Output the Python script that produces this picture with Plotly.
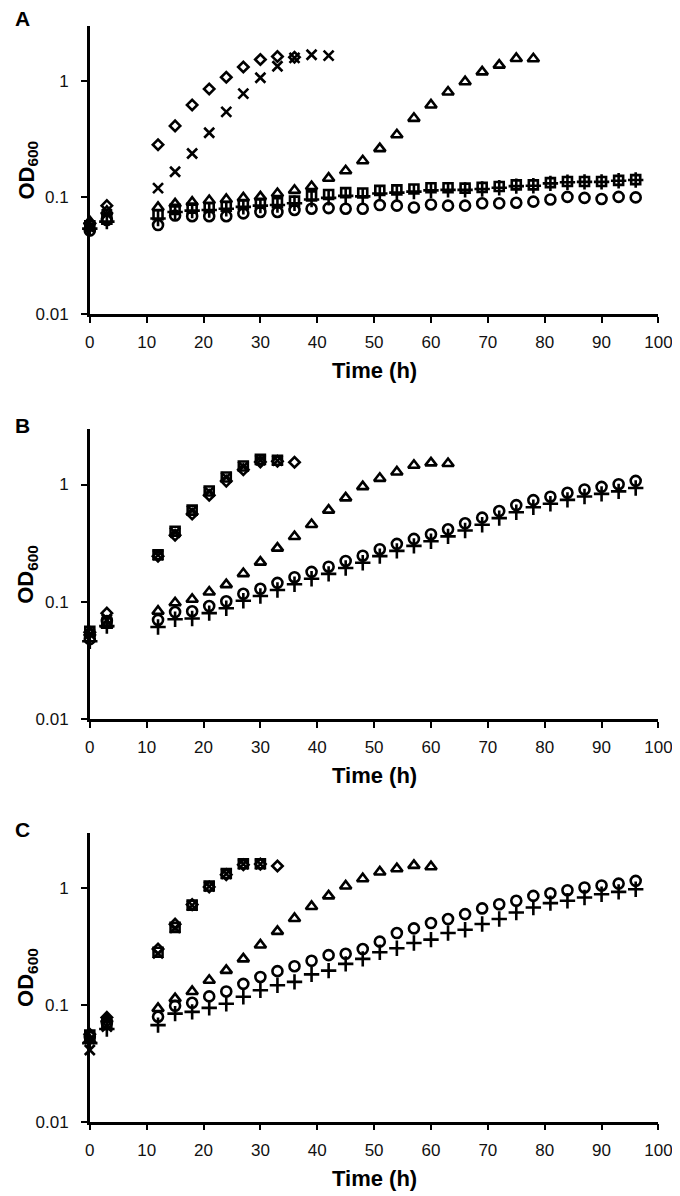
import plotly.graph_objects as go

# ---------------- data ----------------
time_all = [0, 3, 12, 15, 18, 21, 24, 27, 30, 33, 36, 39, 42, 45, 48, 51, 54, 57, 60,
            63, 66, 69, 72, 75, 78, 81, 84, 87, 90, 93, 96]

# Panel A
a_diamond = [0.060, 0.085, 0.283, 0.41, 0.62, 0.85, 1.07, 1.31, 1.52, 1.61, 1.59]
a_cross = [0.055, 0.072, 0.120, 0.166, 0.238, 0.358, 0.54, 0.776, 1.06, 1.33, 1.57, 1.67, 1.64]
a_triangle = [0.062, 0.076, 0.082, 0.088, 0.091, 0.094, 0.096, 0.099, 0.101, 0.108, 0.115,
              0.124, 0.146, 0.169, 0.206, 0.262, 0.344, 0.476, 0.62, 0.80, 0.98, 1.19,
              1.36, 1.55, 1.54]
a_square = [0.057, 0.065, 0.071, 0.079, 0.081, 0.082, 0.084, 0.087, 0.089, 0.090, 0.093,
            0.103, 0.106, 0.110, 0.109, 0.115, 0.116, 0.118, 0.121, 0.121, 0.120, 0.122,
            0.124, 0.128, 0.128, 0.134, 0.137, 0.137, 0.137, 0.140, 0.142]
a_circle = [0.052, 0.064, 0.058, 0.070, 0.069, 0.069, 0.069, 0.073, 0.075, 0.075, 0.078,
            0.080, 0.081, 0.080, 0.080, 0.086, 0.085, 0.082, 0.087, 0.085, 0.085, 0.089,
            0.089, 0.090, 0.092, 0.096, 0.101, 0.099, 0.097, 0.101, 0.100]
a_plus = [0.054, 0.062, 0.066, 0.075, 0.077, 0.078, 0.080, 0.083, 0.085, 0.086, 0.089,
          0.096, 0.099, 0.103, 0.102, 0.108, 0.110, 0.112, 0.115, 0.116, 0.116, 0.118,
          0.121, 0.125, 0.126, 0.132, 0.135, 0.136, 0.136, 0.139, 0.141]

# Panel B
b_diamond = [0.055, 0.080, 0.245, 0.37, 0.56, 0.81, 1.07, 1.34, 1.56, 1.58, 1.55]
b_cross = [0.053, 0.070, 0.25, 0.39, 0.60, 0.87, 1.15, 1.42, 1.62, 1.60]
b_triangle = [0.054, 0.063, 0.083, 0.098, 0.105, 0.121, 0.140, 0.174, 0.218, 0.287, 0.36,
              0.456, 0.605, 0.77, 0.96, 1.13, 1.28, 1.46, 1.53, 1.51]
b_square = [0.056, 0.066, 0.252, 0.40, 0.605, 0.88, 1.16, 1.44, 1.64, 1.61]
b_circle = [0.048, 0.0686, 0.070, 0.0817, 0.083, 0.092, 0.101, 0.117, 0.129, 0.145, 0.162,
            0.180, 0.199, 0.223, 0.247, 0.281, 0.312, 0.344, 0.377, 0.415, 0.467, 0.522,
            0.594, 0.668, 0.736, 0.787, 0.851, 0.908, 0.956, 1.006, 1.075]
b_plus = [0.046, 0.062, 0.061, 0.071, 0.072, 0.080, 0.088, 0.102, 0.112, 0.126, 0.141,
          0.157, 0.173, 0.194, 0.215, 0.245, 0.272, 0.300, 0.328, 0.361, 0.406, 0.454,
          0.517, 0.581, 0.640, 0.685, 0.740, 0.790, 0.832, 0.875, 0.935]

# Panel C
c_diamond = [0.056, 0.078, 0.30, 0.49, 0.72, 1.02, 1.30, 1.58, 1.60, 1.54]
c_cross = [0.041, 0.065, 0.275, 0.455, 0.71, 1.03, 1.32, 1.60, 1.60]
c_triangle = [0.050, 0.075, 0.093, 0.113, 0.130, 0.162, 0.197, 0.247, 0.325, 0.425, 0.548,
              0.694, 0.855, 1.04, 1.20, 1.37, 1.46, 1.56, 1.52]
c_square = [0.055, 0.068, 0.282, 0.46, 0.713, 1.04, 1.33, 1.61, 1.61]
c_circle = [0.053, 0.070, 0.079, 0.098, 0.104, 0.118, 0.130, 0.151, 0.173, 0.194, 0.214,
            0.238, 0.266, 0.273, 0.30, 0.347, 0.411, 0.451, 0.501, 0.542, 0.597, 0.668,
            0.726, 0.776, 0.855, 0.90, 0.956, 1.01, 1.05, 1.09, 1.15]
c_plus = [0.047, 0.062, 0.067, 0.084, 0.087, 0.094, 0.102, 0.117, 0.133, 0.147, 0.157,
          0.182, 0.196, 0.224, 0.247, 0.282, 0.305, 0.338, 0.361, 0.411, 0.439, 0.491,
          0.542, 0.617, 0.681, 0.741, 0.776, 0.828, 0.884, 0.925, 0.975]

panels = [
    ("A", dict(square=a_square, plus=a_plus, circle=a_circle, triangle=a_triangle,
               cross=a_cross, diamond=a_diamond)),
    ("B", dict(square=b_square, plus=b_plus, circle=b_circle, triangle=b_triangle,
               cross=b_cross, diamond=b_diamond)),
    ("C", dict(square=c_square, plus=c_plus, circle=c_circle, triangle=c_triangle,
               cross=c_cross, diamond=c_diamond)),
]

# ---------------- style ----------------
W, H = 680, 1196
FONT = "Liberation Sans, Arial, sans-serif"
x_left, x_right = 79, 664
# (top px, bottom px) of each plot area
plot_px = [(18, 308.7), (425, 717), (832, 1123)]
letter_y = [11, 421, 828]
y_range = [-2, 0.47]

symbols = {
    "square": ("square-open", 9),
    "plus": ("cross-thin-open", 11),
    "circle": ("circle-open", 10),
    "triangle": ("triangle-up-open", 10),
    "cross": ("x-thin-open", 10),
    "diamond": ("diamond-open", 8),
}

fig = go.Figure()
layout = dict(width=W, height=H, margin=dict(l=0, r=0, t=0, b=0),
              paper_bgcolor="white", plot_bgcolor="white", showlegend=False,
              font=dict(family=FONT, color="black"))
annotations = []


def py(px):
    return 1 - px / H


for i, (letter, series) in enumerate(panels):
    k = "" if i == 0 else str(i + 1)
    top, bot = plot_px[i]
    for name, vals in series.items():
        sym, size = symbols[name]
        fig.add_trace(go.Scatter(
            x=time_all[:len(vals)], y=vals, mode="markers",
            xaxis="x" + k, yaxis="y" + k,
            marker=dict(symbol=sym, size=size, color="black",
                        line=dict(color="black", width=2.6)),
            cliponaxis=False))
    layout["xaxis" + k] = dict(
        domain=[x_left / W, x_right / W], range=[0, 100.001], anchor="y" + k,
        tickmode="array", tickvals=list(range(0, 101, 10)),
        ticks="outside", ticklen=6, tickwidth=2, tickcolor="black",
        ticklabelstandoff=5,
        showline=True, linecolor="black", linewidth=2.5, showgrid=False,
        zeroline=False, tickfont=dict(size=17, family=FONT, color="#111"))
    layout["yaxis" + k] = dict(
        domain=[py(bot), py(top)], type="log", range=y_range,
        anchor="x" + k, tickmode="array", tickvals=[0.01, 0.1, 1],
        ticktext=["0.01", "0.1", "1"],
        ticks="outside", ticklen=6, tickwidth=2, tickcolor="black",
        ticklabelstandoff=9,
        showline=True, linecolor="black", linewidth=2.5, showgrid=False,
        zeroline=False, tickfont=dict(size=17, family=FONT, color="#111"))
    # panel letter
    annotations.append(dict(text="<b>%s</b>" % letter, x=10 / W, y=py(letter_y[i]),
                            xref="paper", yref="paper", xanchor="center", yanchor="middle",
                            showarrow=False, font=dict(size=21, family=FONT)))
    # y title
    annotations.append(dict(text="<b>OD<sub>600</sub></b>", x=15 / W,
                            y=py(top + (bot - top) * 0.5),
                            xref="paper", yref="paper", xanchor="center", yanchor="middle",
                            textangle=-90, showarrow=False, font=dict(size=22, family=FONT)))
    # x title
    annotations.append(dict(text="<b>Time (h)</b>", x=(x_left + x_right) / 2 / W,
                            y=py(bot + 57),
                            xref="paper", yref="paper", xanchor="center", yanchor="middle",
                            showarrow=False, font=dict(size=22, family=FONT)))

layout["annotations"] = annotations
fig.update_layout(**layout)
fig.write_html("out.html")
